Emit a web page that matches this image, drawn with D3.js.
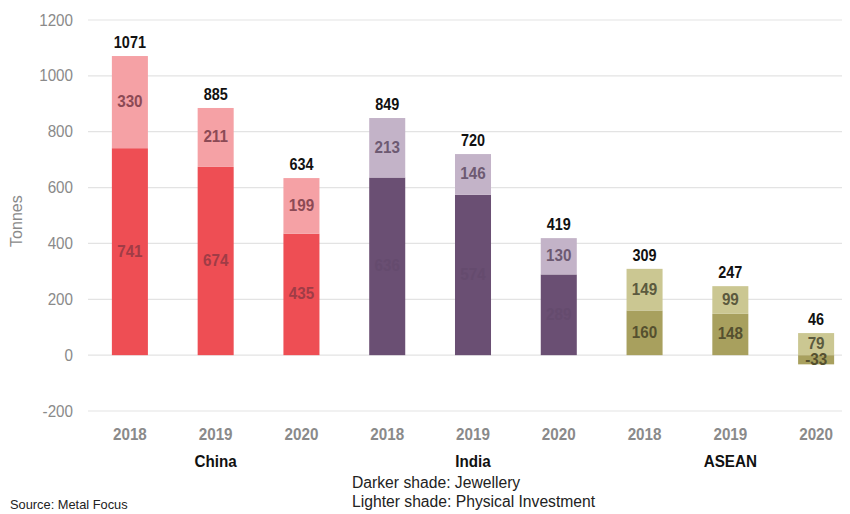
<!DOCTYPE html>
<html>
<head>
<meta charset="utf-8">
<script src="https://cdn.jsdelivr.net/npm/d3@7"></script>
<style>
  html, body { margin: 0; padding: 0; background: #fff; }
  svg { display: block; font-family: "Liberation Sans", Arial, sans-serif; }
</style>
</head>
<body>
<svg id="chart" width="850" height="514"></svg>
<script>
// Gold demand by region and year (tonnes)
const regions = ["China", "India", "ASEAN"];
const years = ["2018", "2019", "2020"];
const jewellery = [741, 674, 435, 636, 574, 289, 160, 148, -33];
const investment = [330, 211, 199, 213, 146, 130, 149, 99, 79];
const totals = [1071, 885, 634, 849, 720, 419, 309, 247, 46];
const yTicks = [-200, 0, 200, 400, 600, 800, 1000, 1200];

const darkColors = { China: "#ee4e54", India: "#6a4f73", ASEAN: "#a8a05e" };
const lightColors = { China: "#f5a1a5", India: "#c3b3c8", ASEAN: "#cbc792" };
const darkLabel = { China: "#a03c46", India: "#654b6e", ASEAN: "#55502f" };
const lightLabel = { China: "#8c4a55", India: "#6d5a72", ASEAN: "#5b5a3e" };

const rows = [];
regions.forEach((r, ri) => years.forEach((y, yi) => {
  const i = ri * years.length + yi;
  rows.push({ key: r + "-" + y, region: r, year: y, jew: jewellery[i], inv: investment[i], total: totals[i] });
}));

// slightly condense glyphs to get a narrow-face look
function condense(sel, k) {
  sel.each(function () {
    const w = this.getComputedTextLength();
    this.setAttribute("textLength", w * k);
    this.setAttribute("lengthAdjust", "spacingAndGlyphs");
  });
}

const svg = d3.select("#chart");

const x = d3.scaleBand()
  .domain(rows.map(d => d.key))
  .range([87, 859])
  .paddingInner(0.58)
  .paddingOuter(0.29);

const y = d3.scaleLinear().domain([-200, 1200]).range([411, 20]);

// gridlines
svg.append("g")
  .selectAll("line")
  .data(yTicks)
  .join("line")
  .attr("x1", 88).attr("x2", 842)
  .attr("y1", d => y(d)).attr("y2", d => y(d))
  .attr("stroke", "#e3e3e3").attr("stroke-width", 1.2);

// y axis labels
const yAxis = d3.axisLeft(y).tickValues(yTicks).tickSize(0).tickPadding(0).tickFormat(d => String(d));
const yg = svg.append("g").attr("transform", "translate(73,0)").call(yAxis);
yg.select(".domain").remove();
yg.selectAll("text").attr("fill", "#8a8a8a").attr("font-size", 16)
  .attr("font-family", "'Liberation Sans', Arial, sans-serif")
  .call(condense, 0.95);

svg.append("text")
  .attr("transform", "translate(22," + y(480) + ") rotate(-90)")
  .attr("text-anchor", "middle")
  .attr("fill", "#8a8a8a").attr("font-size", 16)
  .text("Tonnes");

const bw = x.bandwidth();

// stacked bars: jewellery from zero, investment on top (or from zero when jewellery is negative)
const bars = svg.append("g").selectAll("g").data(rows).join("g");

bars.append("rect")
  .attr("x", d => x(d.key)).attr("width", bw)
  .attr("y", d => y(Math.max(0, d.jew)))
  .attr("height", d => Math.abs(y(d.jew) - y(0)))
  .attr("fill", d => darkColors[d.region]);

const invBase = d => Math.max(0, d.jew);
bars.append("rect")
  .attr("x", d => x(d.key)).attr("width", bw)
  .attr("y", d => y(invBase(d) + d.inv))
  .attr("height", d => y(invBase(d)) - y(invBase(d) + d.inv))
  .attr("fill", d => lightColors[d.region]);

// segment labels
bars.append("text")
  .attr("x", d => x(d.key) + bw / 2)
  .attr("y", d => y(d.jew / 2) + 5)
  .attr("text-anchor", "middle")
  .attr("font-size", 16).attr("font-weight", "bold")
  .attr("fill", d => darkLabel[d.region])
  .text(d => d.jew)
  .call(condense, 0.95);

bars.append("text")
  .attr("x", d => x(d.key) + bw / 2)
  .attr("y", d => y(invBase(d) + d.inv / 2) + 5)
  .attr("text-anchor", "middle")
  .attr("font-size", 16).attr("font-weight", "bold")
  .attr("fill", d => lightLabel[d.region])
  .text(d => d.inv)
  .call(condense, 0.95);

// totals above bars
bars.append("text")
  .attr("x", d => x(d.key) + bw / 2)
  .attr("y", d => y(invBase(d) + d.inv) - 8)
  .attr("text-anchor", "middle")
  .attr("font-size", 16).attr("font-weight", "bold")
  .attr("fill", "#111")
  .text(d => d.total)
  .call(condense, 0.9);

// year labels
svg.append("g").selectAll("text").data(rows).join("text")
  .attr("x", d => x(d.key) + bw / 2)
  .attr("y", 440)
  .attr("text-anchor", "middle")
  .attr("font-size", 16).attr("font-weight", "bold")
  .attr("fill", "#8a8a8a")
  .text(d => d.year)
  .call(condense, 0.95);

// region labels
svg.append("g").selectAll("text").data(regions).join("text")
  .attr("x", r => x(r + "-2019") + bw / 2)
  .attr("y", 467)
  .attr("text-anchor", "middle")
  .attr("font-size", 16).attr("font-weight", "bold")
  .attr("fill", "#111")
  .text(r => r)
  .call(condense, 0.95);

// notes
svg.append("text").attr("x", 352).attr("y", 488)
  .attr("font-size", 16).attr("fill", "#222").text("Darker shade: Jewellery")
  .call(condense, 0.98);
svg.append("text").attr("x", 352).attr("y", 507)
  .attr("font-size", 16).attr("fill", "#222").text("Lighter shade: Physical Investment")
  .call(condense, 0.98);
svg.append("text").attr("x", 10).attr("y", 509)
  .attr("font-size", 13.5).attr("fill", "#222").text("Source: Metal Focus")
  .call(condense, 0.95);
</script>
</body>
</html>
